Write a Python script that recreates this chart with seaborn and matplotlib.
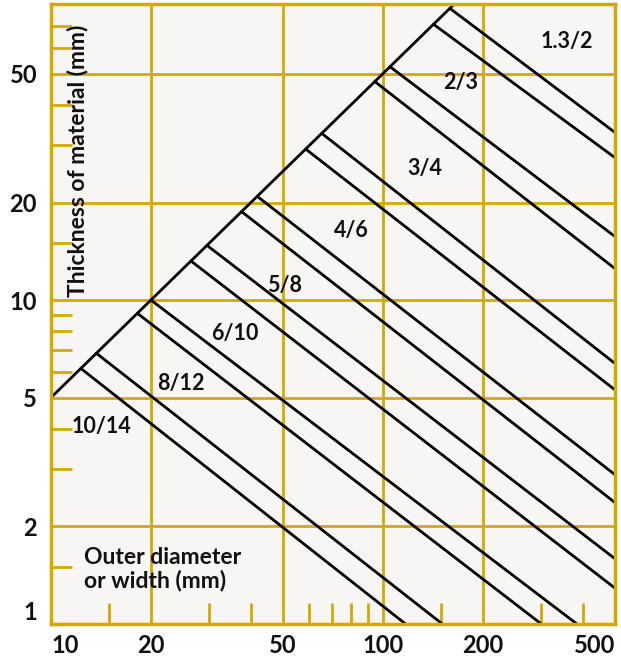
# plot.py
# Log-log chart: thickness of material vs outer diameter, with band lines
import matplotlib
matplotlib.use('Agg')
import matplotlib.pyplot as plt
import matplotlib.ticker as mticker
import pandas as pd
import seaborn as sns

# --- data ---
# upper-left boundary line (thickness = diameter / 2)
boundary_x = [10, 164]
boundary_y = [5, 82]

# descending band lines: start on the boundary, end at right edge or bottom
start_x = [12.3, 13.7, 18.2, 20, 26.4, 29.5, 37.5, 41.8, 58.5, 65.4, 94.5, 105, 142, 159]
start_y = [6.15, 6.85, 9.1, 10, 13.2, 14.75, 18.75, 20.9, 29.25, 32.7, 47.25, 52.5, 71, 79.5]
end_x = [117, 151, 300, 384, 500, 500, 500, 500, 500, 500, 500, 500, 500, 500]
end_y = [1, 1, 1, 1, 1.29, 1.59, 2.37, 2.89, 5.28, 6.37, 12.5, 15.7, 27.5, 32.9]

region_labels = ['10/14', '8/12', '6/10', '5/8', '4/6', '3/4', '2/3', '1.3/2']

x_major = [10, 20, 50, 100, 200, 500]
x_minor = [15, 30, 40, 60, 70, 80, 90, 150, 300, 400]
y_major = [1, 2, 5, 10, 20, 50]
y_minor = [1.5, 3, 4, 6, 7, 8, 9, 15, 30, 40, 60, 70]

GOLD = '#D4A900'
BG = '#F7F6F4'
INK = '#111111'

sns.set_theme(style='white')
plt.rcParams['font.family'] = ['Lato', 'DejaVu Sans']

fig = plt.figure(figsize=(6.21, 6.59), dpi=100)
ax = fig.add_axes([51 / 621, 1 - 624 / 659, 564 / 621, 620 / 659])
ax.set_facecolor(BG)
ax.set_xscale('log')
ax.set_yscale('log')

# long-form table of segments for seaborn
rows = []
for i in range(len(start_x)):
    rows.append({'line': i, 'x': start_x[i], 'y': start_y[i]})
    rows.append({'line': i, 'x': end_x[i], 'y': end_y[i]})
df = pd.DataFrame(rows)

sns.lineplot(data=df, x='x', y='y', units='line', estimator=None, sort=False,
             color='black', linewidth=2, legend=False, ax=ax)
sns.lineplot(x=boundary_x, y=boundary_y, sort=False, color='black',
             linewidth=2, legend=False, ax=ax)

ax.set_xlim(10, 500)
ax.set_ylim(1, 82)

# ticks and grid
ax.set_xticks(x_major, labels=[str(v) for v in x_major])
ax.set_yticks(y_major, labels=[str(v) for v in y_major])
ax.set_xticks(x_minor, minor=True)
ax.set_yticks(y_minor, minor=True)
ax.xaxis.set_minor_formatter(mticker.NullFormatter())
ax.yaxis.set_minor_formatter(mticker.NullFormatter())
ax.tick_params(bottom=True, left=True, which='both')
ax.tick_params(which='major', length=0, labelsize=17, colors=INK)
ax.tick_params(axis='x', which='major', pad=7)
ax.tick_params(axis='y', which='major', pad=10)
ax.tick_params(which='minor', direction='in', length=15, width=2, color=GOLD)
for lab in ax.get_xticklabels() + ax.get_yticklabels():
    lab.set_fontweight('bold')
ax.get_xticklabels()[0].set_ha('left')
ax.get_xticklabels()[-1].set_ha('right')
ax.get_yticklabels()[0].set_va('bottom')

ax.grid(True, which='major', color=GOLD, linewidth=2)
ax.set_axisbelow(True)
for sp in ax.spines.values():
    sp.set_visible(True)
    sp.set_color(GOLD)
    sp.set_linewidth(2.5)

ax.set_xlabel('')
ax.set_ylabel('')

# band labels
label_pos = [(14.15, 4.07), (24.6, 5.53), (35.9, 7.9), (50.7, 11.1),
             (80.3, 16.4), (133.6, 25.5), (171, 46.9), (357, 62.9)]
for txt, (lx, ly) in zip(region_labels, label_pos):
    ax.text(lx, ly, txt, ha='center', va='center', fontsize=15.5,
            fontweight='bold', color=INK)

# axis titles drawn inside the plot area
ax.text(12.05, 10.2, 'Thickness of material (mm)', rotation=90, ha='center',
        va='bottom', fontsize=16.5, fontweight='bold', color=INK)
ax.text(12.6, 1.73, 'Outer diameter\nor width (mm)', ha='left', va='top',
        fontsize=16.5, fontweight='bold', color=INK, linespacing=1.1)

fig.savefig('out.png', dpi=100)
